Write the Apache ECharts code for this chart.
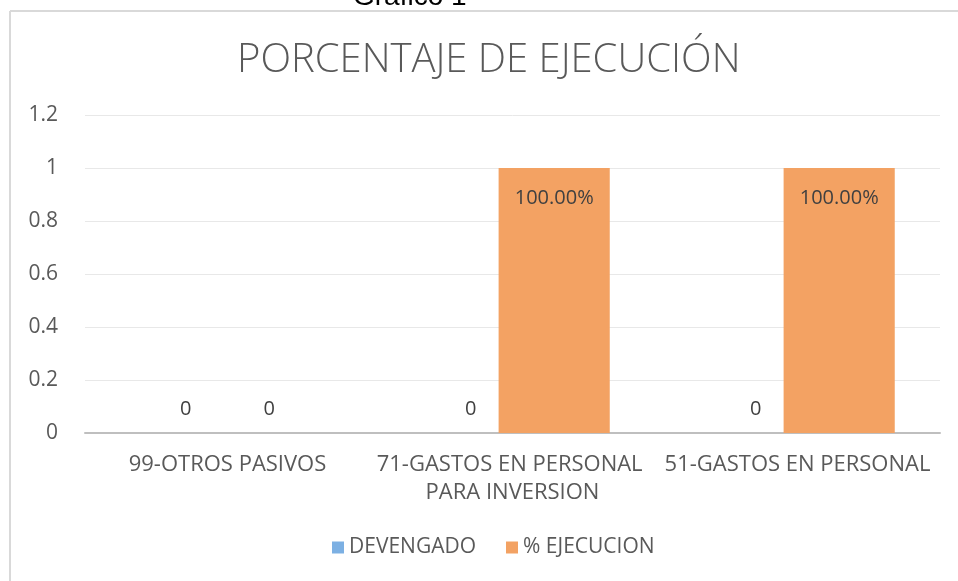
<!DOCTYPE html>
<html>
<head>
<meta charset="utf-8">
<script src="https://cdn.jsdelivr.net/npm/echarts@6/dist/echarts.min.js"></script>
<style>
  html, body { margin: 0; padding: 0; background: #fff; }
  #chart { width: 958px; height: 581px; }
</style>
</head>
<body>
<div id="chart"></div>
<script>
  // datos del grafico
  var categorias = ['99-OTROS PASIVOS', '71-GASTOS EN PERSONAL PARA INVERSION', '51-GASTOS EN PERSONAL']
  var devengado = [0, 0, 0]
  var ejecucion = [0, 1, 1]
  var ticksY = [0, 0.2, 0.4, 0.6, 0.8, 1, 1.2]

  var fuente = '"Open Sans", "Noto Sans", sans-serif'
  var gris = '#595959'

  function etiqueta(v) {
    return v === 0 ? '0' : (v * 100).toFixed(2) + '%'
  }

  var chart = echarts.init(document.getElementById('chart'))
  var option = {
    backgroundColor: '#fff',
    animation: false,
    title: {
      text: 'PORCENTAJE DE EJECUCIÓN',
      left: 232,
      top: 36,
      textStyle: {
        fontFamily: fuente,
        fontSize: 40,
        fontWeight: 300,
        color: gris
      }
    },
    legend: {
      bottom: 18,
      left: 327,
      icon: 'rect',
      itemWidth: 12,
      itemHeight: 12,
      itemGap: 30,
      data: ['DEVENGADO', '% EJECUCION'],
      textStyle: { fontFamily: fuente, fontSize: 21, color: gris }
    },
    grid: {
      left: 85,
      right: 18,
      top: 115,
      bottom: 148
    },
    graphic: [
      { type: 'line', shape: { x1: 10, y1: 11, x2: 958, y2: 11 }, style: { stroke: '#d9d9d9', lineWidth: 2 } },
      { type: 'line', shape: { x1: 10, y1: 11, x2: 10, y2: 581 }, style: { stroke: '#d9d9d9', lineWidth: 2 } },
      { type: 'text', left: 353, top: -17, style: { text: 'Gráfico 1', font: '28px Arial, "Liberation Sans", sans-serif', fill: '#000' } }
    ],
    xAxis: {
      type: 'category',
      data: categorias,
      axisLine: { lineStyle: { color: '#bfbfbf', width: 2 } },
      axisTick: { show: false },
      axisLabel: {
        interval: 0,
        margin: 18,
        width: 285,
        overflow: 'break',
        lineHeight: 28,
        fontFamily: fuente,
        fontSize: 22,
        color: gris
      }
    },
    yAxis: {
      type: 'value',
      min: ticksY[0],
      max: ticksY[ticksY.length - 1],
      interval: 0.2,
      axisLine: { show: false },
      axisTick: { show: false },
      splitLine: { lineStyle: { color: '#e8e8e8', width: 1 } },
      axisLabel: {
        margin: 27,
        fontFamily: fuente,
        fontSize: 21,
        color: gris,
        formatter: function (v) { return String(Math.round(v * 10) / 10) }
      }
    },
    series: [
      {
        name: 'DEVENGADO',
        type: 'bar',
        barWidth: '39%',
        barGap: '-25%',
        itemStyle: { color: '#7cb0e3' },
        label: {
          show: true,
          position: 'top',
          distance: 14,
          fontFamily: fuente,
          fontSize: 20,
          color: '#404040',
          formatter: function (p) { return etiqueta(p.value) }
        },
        data: devengado
      },
      {
        name: '% EJECUCION',
        type: 'bar',
        barWidth: '39%',
        itemStyle: { color: '#f3a263' },
        label: {
          show: true,
          position: 'insideTop',
          distance: 20,
          fontFamily: fuente,
          fontSize: 20,
          color: '#404040',
          formatter: function (p) { return etiqueta(p.value) }
        },
        data: ejecucion.map(function (v) {
          return v === 0 ? { value: v, label: { position: 'top', distance: 14 } } : v
        })
      }
    ]
  }
  chart.setOption(option)
</script>
</body>
</html>
